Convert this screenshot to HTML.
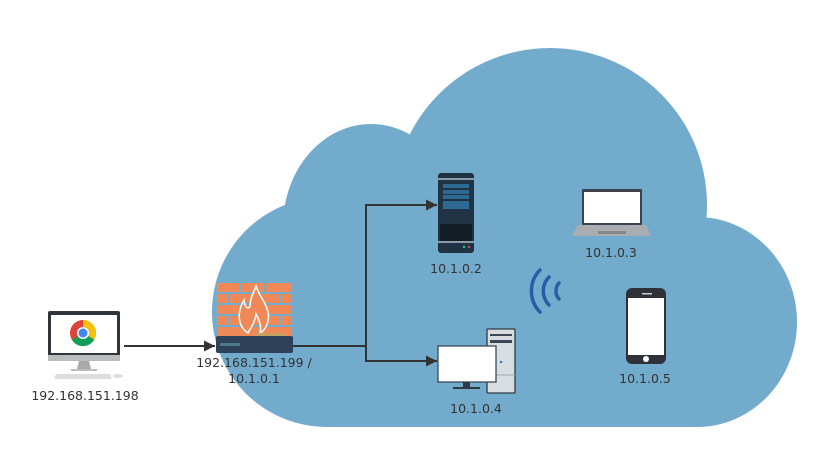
<!DOCTYPE html>
<html><head><meta charset="utf-8"><style>
html,body{margin:0;padding:0;background:#fff;width:829px;height:460px;overflow:hidden}
text{font-family:"DejaVu Sans","Liberation Sans",sans-serif;font-size:12.5px;fill:#333}
</style></head><body>
<svg width="829" height="460" viewBox="0 0 829 460" xmlns="http://www.w3.org/2000/svg">
<defs><marker id="a" viewBox="0 0 10 10" refX="10" refY="5" markerWidth="16" markerHeight="11" markerUnits="userSpaceOnUse" orient="auto"><path d="M0,0L10,5L0,10z" fill="#333"/></marker></defs>
<g fill="#73abcc">
<circle cx="327" cy="312" r="115"/>
<ellipse cx="371" cy="226" rx="88" ry="102"/>
<circle cx="550" cy="205" r="157"/>
<ellipse cx="697" cy="322" rx="100" ry="105"/>
<rect x="327" y="230" width="370" height="197"/>
</g>
<g stroke="#333" stroke-width="2" fill="none">
<line x1="124" y1="346" x2="215" y2="346" marker-end="url(#a)"/>
<polyline points="292,346 366,346 366,205 437,205" marker-end="url(#a)"/>
<polyline points="366,346 366,361 437,361" marker-end="url(#a)"/>
</g>
<rect x="48" y="311" width="72" height="46" rx="2" fill="#30343c"/>
<rect x="51" y="315" width="66" height="38" fill="#fff"/>
<rect x="48" y="355" width="72" height="6" fill="#bbb"/>
<polygon points="79,361 89,361 91,369 77,369" fill="#aaa"/>
<rect x="71" y="369" width="26" height="2" fill="#bbb"/>
<polygon points="56,374 110,374 112,379 54,379" fill="#ddd"/>
<ellipse cx="118" cy="376" rx="5" ry="2" fill="#ddd"/>
<circle cx="83" cy="333" r="13" fill="#db4437"/>
<path d="M83,333 L94.3,339.5 A13,13 0 0 1 72,340 Z" fill="#0f9d58"/>
<path d="M83,333 L83,320 A13,13 0 0 1 94.3,339.5 Z" fill="#f4c20d"/>
<circle cx="83" cy="333" r="6" fill="#fff"/><circle cx="83" cy="333" r="4.5" fill="#4285f4"/>
<rect x="217" y="283" width="75" height="53" fill="#ef8a58"/>
<g stroke="#73abcc" stroke-width="2">
<line x1="217" y1="293" x2="292" y2="293"/><line x1="217" y1="304" x2="292" y2="304"/><line x1="217" y1="315" x2="292" y2="315"/><line x1="217" y1="326" x2="292" y2="326"/>
<line x1="240" y1="283" x2="240" y2="293"/><line x1="265" y1="283" x2="265" y2="293"/>
<line x1="229" y1="293" x2="229" y2="304"/><line x1="280" y1="293" x2="280" y2="304"/>
<line x1="240" y1="304" x2="240" y2="315"/><line x1="265" y1="304" x2="265" y2="315"/>
<line x1="229" y1="315" x2="229" y2="326"/><line x1="280" y1="315" x2="280" y2="326"/>
</g>
<path d="M248,333 C236,325 238,310 244,300 C245,308 248,310 250,306 C250,298 254,292 256,286 C259,296 266,302 268,312 C270,320 266,330 260,333 C262,325 258,318 256,314 C255,322 252,326 248,333Z" fill="#ef8a58" stroke="#fff" stroke-width="1.5"/>
<rect x="216" y="336" width="77" height="17" rx="2" fill="#2e4158"/>
<rect x="220" y="343" width="20" height="3" fill="#4d7a8a"/>
<rect x="255" y="333" width="30" height="3" fill="#c8a060"/>
<text x="254" y="367" text-anchor="middle">192.168.151.199 /</text>
<text x="254" y="383" text-anchor="middle">10.1.0.1</text>
<text x="85" y="400" text-anchor="middle">192.168.151.198</text>
<rect x="438" y="173" width="36" height="80" rx="3" fill="#1f3344"/>
<rect x="438" y="178" width="36" height="2" fill="#8a9aa6"/>
<g fill="#2d6a93"><rect x="443" y="184" width="26" height="4"/><rect x="443" y="190" width="26" height="4"/><rect x="443" y="195" width="26" height="4"/><rect x="443" y="201" width="26" height="4"/><rect x="443" y="205" width="26" height="4"/></g>
<rect x="440" y="224" width="32" height="17" fill="#111c24"/>
<rect x="438" y="241" width="36" height="2" fill="#8a9aa6"/>
<circle cx="464" cy="247" r="1.2" fill="#3b9"/><circle cx="469" cy="247" r="1.2" fill="#c45"/>
<text x="456" y="273" text-anchor="middle">10.1.0.2</text>
<rect x="582" y="189" width="60" height="36" rx="1" fill="#3b4350"/>
<rect x="584" y="192" width="56" height="31" fill="#fff"/>
<polygon points="578,225 646,225 651,236 572,236" fill="#a9adb2"/>
<rect x="598" y="231" width="28" height="3" fill="#888"/>
<text x="611" y="257" text-anchor="middle">10.1.0.3</text>
<g stroke="#2a5ca8" stroke-width="3.5" fill="none" stroke-linecap="round">
<path d="M540,270 A30,30 0 0 0 540,312"/>
<path d="M549,277 A20,20 0 0 0 549,305"/>
<path d="M559,283 A12,12 0 0 0 559,299"/>
</g>
<rect x="626" y="288" width="40" height="76" rx="6" fill="#2e3138"/>
<rect x="628" y="298" width="36" height="57" fill="#fff"/>
<circle cx="646" cy="359" r="3" fill="#fff"/>
<rect x="642" y="293" width="10" height="1.5" fill="#ccc"/>
<text x="645" y="383" text-anchor="middle">10.1.0.5</text>
<rect x="487" y="329" width="28" height="64" rx="1" fill="#d8dde2" stroke="#2e3a46" stroke-width="1.3"/>
<rect x="490" y="334" width="22" height="2" fill="#3b4754"/>
<rect x="490" y="340" width="22" height="3" fill="#3b4754"/>
<circle cx="501" cy="362" r="1.3" fill="#3a7bd5"/>
<line x1="487" y1="375" x2="515" y2="375" stroke="#9aa" stroke-width="1"/>
<rect x="438" y="346" width="58" height="36" fill="#fff" stroke="#3b4754" stroke-width="1.3"/>
<rect x="463" y="382" width="7" height="5" fill="#2e3a46"/>
<rect x="453" y="387" width="27" height="2" fill="#2e3a46"/>
<text x="476" y="413" text-anchor="middle">10.1.0.4</text>
</svg>
</body></html>
